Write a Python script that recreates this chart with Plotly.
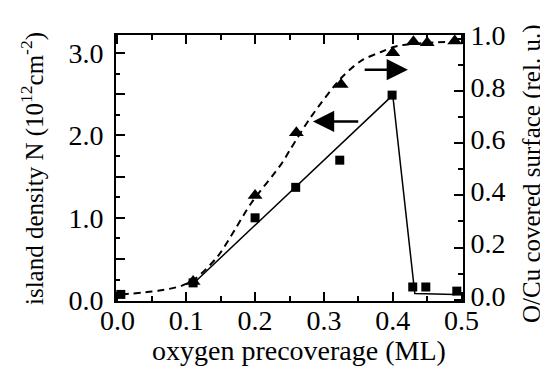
import plotly.graph_objects as go

# island density (left axis, squares)
sq_x = [0.005, 0.110, 0.200, 0.259, 0.323, 0.399, 0.429, 0.448, 0.493]
sq_y = [0.07, 0.21, 1.00, 1.37, 1.70, 2.49, 0.16, 0.16, 0.11]
# linear guide for island density
fit_x = [0.110, 0.400, 0.432, 0.490]
fit_y = [0.20, 2.49, 0.08, 0.07]
# O/Cu covered surface (right axis, triangles)
tri_x = [0.110, 0.200, 0.260, 0.325, 0.400, 0.430, 0.450, 0.490]
tri_y = [0.07, 0.40, 0.64, 0.825, 0.947, 0.989, 0.985, 0.992]
# dashed guide for covered surface
cur_x = [0.006, 0.059, 0.093, 0.113, 0.146, 0.171, 0.194, 0.238, 0.252, 0.281,
         0.325, 0.354, 0.383, 0.407, 0.451, 0.500]
cur_y = [0.02, 0.034, 0.053, 0.08, 0.167, 0.27, 0.369, 0.52, 0.58, 0.70,
         0.85, 0.916, 0.95, 0.973, 0.985, 0.99]

x_ticks = [0.0, 0.1, 0.2, 0.3, 0.4, 0.5]
x_labels = ["0.0", "0.1", "0.2", "0.3", "0.4", "0.5"]
yl_ticks = [0.0, 0.5, 1.0, 1.5, 2.0, 2.5, 3.0]
yl_labels = ["0.0", "", "1.0", "", "2.0", "", "3.0"]
yr_ticks = [0.0, 0.2, 0.4, 0.6, 0.8, 1.0]
yr_labels = ["0.0", "0.2", "0.4", "0.6", "0.8", "1.0"]

FONT = "Liberation Serif"
fig = go.Figure()
fig.add_trace(go.Scatter(x=cur_x, y=cur_y, yaxis="y2", mode="lines",
                         line=dict(color="black", width=2, dash="7px,5px", shape="spline", smoothing=0.8),
                         showlegend=False, hoverinfo="skip"))
fig.add_trace(go.Scatter(x=fit_x, y=fit_y, mode="lines",
                         line=dict(color="black", width=1.5), showlegend=False))
fig.add_trace(go.Scatter(x=sq_x, y=sq_y, mode="markers",
                         marker=dict(symbol="square", size=9, color="black"), showlegend=False))
fig.add_trace(go.Scatter(x=tri_x, y=tri_y, yaxis="y2", mode="markers",
                         marker=dict(symbol="triangle-up", size=13, color="black"), showlegend=False))

axis_common = dict(showline=True, linecolor="black", linewidth=2, ticks="inside",
                   tickcolor="black", tickwidth=2, showgrid=False, zeroline=False,
                   tickfont=dict(family=FONT, size=28, color="black"))

fig.update_layout(
    width=548, height=372,
    margin=dict(l=108, r=93, t=27, b=79),
    paper_bgcolor="white", plot_bgcolor="white",
    xaxis=dict(range=[-0.002, 0.502], tickvals=x_ticks, ticktext=x_labels, ticklen=9,
               mirror="ticks", ticklabelstandoff=-7,
               minor=dict(dtick=0.05, tick0=0, ticks="inside", ticklen=5, tickcolor="black", tickwidth=2),
               **axis_common),
    yaxis=dict(range=[-0.01, 3.22], tickvals=yl_ticks, ticktext=yl_labels, ticklen=9,
               ticklabelstandoff=5,
               minor=dict(dtick=0.25, tick0=0, ticks="inside", ticklen=4, tickcolor="black", tickwidth=2),
               **axis_common),
    yaxis2=dict(range=[-0.005, 1.015], tickvals=yr_ticks, ticktext=yr_labels, ticklen=9,
                overlaying="y", side="right", ticklabelshift=-4,
                minor=dict(dtick=0.1, tick0=0, ticks="inside", ticklen=5, tickcolor="black", tickwidth=2),
                **axis_common),
    annotations=[
        dict(text="oxygen precoverage (ML)", xref="paper", yref="paper", x=0.5, y=0,
             xanchor="center", yanchor="middle", yshift=-49, xshift=9, showarrow=False,
             font=dict(family=FONT, size=28, color="black")),
        dict(text="island density N (10<sup>12</sup>cm<sup>-2</sup>)", xref="paper", yref="paper",
             x=0, y=0.5, xanchor="center", yanchor="middle", xshift=-84, yshift=-1, textangle=-90,
             showarrow=False, font=dict(family=FONT, size=25, color="black")),
        dict(text="O/Cu covered surface (rel. u.)", xref="paper", yref="paper",
             x=1, y=0.5, xanchor="center", yanchor="middle", xshift=69, yshift=-6, textangle=-90,
             showarrow=False, font=dict(family=FONT, size=25, color="black")),
        dict(x=0.284, y=2.17, ax=0.352, ay=2.17, xref="x", yref="y", axref="x", ayref="y",
             text="", showarrow=True, arrowhead=2, arrowsize=1.7, arrowwidth=2.5, arrowcolor="black"),
        dict(x=0.422, y=0.882, ax=0.357, ay=0.882, xref="x", yref="y2", axref="x", ayref="y2",
             text="", showarrow=True, arrowhead=2, arrowsize=1.7, arrowwidth=2.5, arrowcolor="black"),
    ],
)
fig.write_html("out.html")
